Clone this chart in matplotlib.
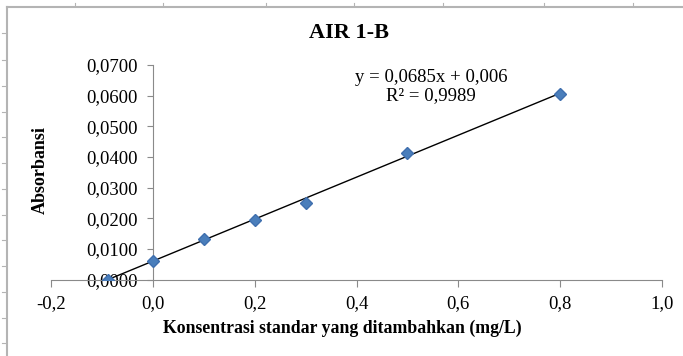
import matplotlib.pyplot as plt
import numpy as np
from matplotlib.lines import Line2D

plt.rcParams['font.family'] = ['Liberation Serif', 'DejaVu Serif']

# Standard addition data (x: added standard in mg/L, y: absorbance)
konsentrasi = [0.0, 0.1, 0.2, 0.3, 0.5, 0.8]
absorbansi = [0.0060, 0.0133, 0.0193, 0.0251, 0.0412, 0.0606]
slope = 0.0685
intercept = 0.006
r2 = 0.9989
# extrapolated x-intercept point
x_int = [-intercept / slope]
y_int = [0.0]

xticks = [-0.2, 0.0, 0.2, 0.4, 0.6, 0.8, 1.0]
yticks = [0.00, 0.01, 0.02, 0.03, 0.04, 0.05, 0.06, 0.07]

W, H = 683, 356
fig = plt.figure(figsize=(W / 100, H / 100), dpi=100)
fig.patch.set_facecolor('white')

ax = fig.add_axes([51 / W, 1 - 279.5 / H, (662 - 51) / W, (279.5 - 65) / H])
ax.set_xlim(-0.2, 1.0)
ax.set_ylim(0, 0.07)

# trendline from the fitted equation, extended back to y = 0
xl = np.array([x_int[0], konsentrasi[-1]])
ax.plot(xl, slope * xl + intercept, color='black', lw=1.0, zorder=2)
ax.plot(konsentrasi + x_int, absorbansi + y_int, linestyle='none', marker='D',
        markersize=6.5, color='#4a7ebb', markeredgecolor='#3f6fae', zorder=3)

# Excel-style axes crossing at the origin
for s in ['top', 'right']:
    ax.spines[s].set_visible(False)
ax.spines['left'].set_position(('data', 0))
ax.spines['left'].set_color('#8a8a8a')
ax.spines['bottom'].set_color('#8a8a8a')
ax.spines['left'].set_linewidth(0.8)
ax.spines['bottom'].set_linewidth(0.8)

ax.set_xticks(xticks)
ax.set_xticklabels([f'{v:.1f}'.replace('.', ',') for v in xticks])
ax.set_yticks(yticks)
ax.set_yticklabels([f'{v:.4f}'.replace('.', ',') for v in yticks])
ax.tick_params(axis='x', direction='out', length=5, width=0.8, color='#8a8a8a',
               pad=6, labelsize=13.5)
ax.tick_params(axis='y', direction='out', length=4, width=0.8, color='#8a8a8a',
               pad=7, labelsize=13.5)
ax.patch.set_alpha(0)

fig.text(349 / W, 1 - 33 / H, 'AIR 1-B', ha='center', va='center',
         fontsize=16, fontweight='bold')
fig.text(431 / W, 1 - 77 / H, 'y = 0,0685x + 0,006', ha='center', va='center',
         fontsize=13.5)
fig.text(431 / W, 1 - 96 / H, f'R² = {r2:.4f}'.replace('.', ','), ha='center',
         va='center', fontsize=13.5)
fig.text(342 / W, 1 - 328 / H, 'Konsentrasi standar yang ditambahkan (mg/L)',
         ha='center', va='center', fontsize=12.8, fontweight='bold')
fig.text(40 / W, 1 - 170 / H, 'Absorbansi', ha='center', va='center',
         rotation=90, fontsize=13, fontweight='bold')

# chart frame border with small ruler marks
frame = '#b4b4b4'
fig.add_artist(Line2D([6.5 / W, 6.5 / W], [0, 1 - 6.5 / H], color=frame, lw=1.5))
fig.add_artist(Line2D([6.5 / W, 1], [1 - 6.5 / H, 1 - 6.5 / H], color=frame, lw=1.5))
for yy in [33, 60, 86, 112, 137, 163, 189, 215, 240, 266, 292, 318, 343]:
    fig.add_artist(Line2D([2 / W, 6 / W], [1 - yy / H, 1 - yy / H], color=frame, lw=0.8))
for xx in [75, 163, 266, 354, 443, 544, 633]:
    fig.add_artist(Line2D([xx / W, xx / W], [1 - 3 / H, 1 - 6 / H], color=frame, lw=0.8))

fig.savefig('out.png', dpi=100, facecolor='white')
